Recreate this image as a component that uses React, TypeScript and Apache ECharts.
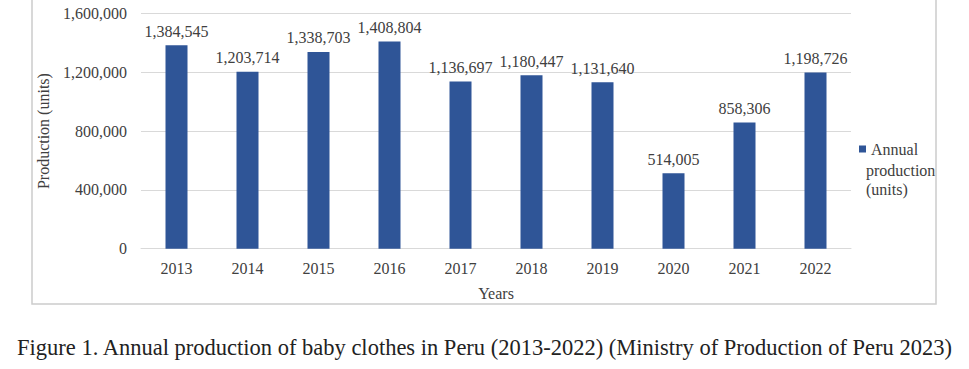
import React, { useEffect, useRef } from "react";
import * as echarts from "echarts";

const years = ["2013", "2014", "2015", "2016", "2017", "2018", "2019", "2020", "2021", "2022"];
const production = [1384545, 1203714, 1338703, 1408804, 1136697, 1180447, 1131640, 514005, 858306, 1198726];
const seriesName = "Annual production (units)";
const legendLines = ["Annual", "production", "(units)"];
const yTicks = { min: 0, max: 1600000, interval: 400000 };
const caption =
  "Figure 1. Annual production of baby clothes in Peru (2013-2022) (Ministry of Production of Peru 2023)";

const FONT = '"Liberation Serif", "Times New Roman", serif';
const fmt = (v: number) => v.toLocaleString("en-US");

export default function App() {
  const ref = useRef<HTMLDivElement>(null);
  useEffect(() => {
    if (!ref.current) return;
    const chart = echarts.init(ref.current, undefined, { renderer: "svg" });
    chart.setOption({
      animation: false,
      backgroundColor: "#ffffff",
      textStyle: { fontFamily: FONT },
      grid: { left: 141, right: 118, top: 13.5, bottom: 120.3, containLabel: false },
      xAxis: {
        type: "category",
        data: years,
        name: "Years",
        nameLocation: "middle",
        nameGap: 37,
        nameTextStyle: { fontFamily: FONT, fontSize: 16, color: "#404040" },
        axisLine: { lineStyle: { color: "#d9d9d9", width: 1 } },
        axisTick: { show: false },
        axisLabel: { fontFamily: FONT, fontSize: 16, color: "#404040", margin: 12 },
      },
      yAxis: {
        type: "value",
        min: yTicks.min,
        max: yTicks.max,
        interval: yTicks.interval,
        name: "Production (units)",
        nameLocation: "middle",
        nameGap: 90,
        nameRotate: 90,
        nameTextStyle: { fontFamily: FONT, fontSize: 16, color: "#404040" },
        axisLine: { show: false },
        axisTick: { show: false },
        splitLine: { lineStyle: { color: "#d9d9d9", width: 1 } },
        axisLabel: {
          fontFamily: FONT,
          fontSize: 16,
          color: "#404040",
          margin: 14,
          formatter: (v: number) => fmt(v),
        },
      },
      legend: {
        show: true,
        left: 854,
        top: 134.5,
        orient: "vertical",
        icon: "rect",
        itemWidth: 7,
        itemHeight: 7,
        data: [seriesName],
        formatter: () => legendLines[0],
        textStyle: { fontFamily: FONT, fontSize: 16, color: "#404040", lineHeight: 19 },
      },
      series: [
        {
          name: seriesName,
          type: "bar",
          data: production,
          barWidth: 22,
          itemStyle: { color: "#2f5597" },
          label: {
            show: true,
            position: "top",
            distance: 6,
            fontFamily: FONT,
            fontSize: 16,
            color: "#404040",
            formatter: (p: any) => fmt(p.value),
          },
        },
      ],
      graphic: [
        {
          type: "rect",
          shape: { x: 32, y: -10, width: 904, height: 314 },
          style: { fill: "none", stroke: "#cccccc", lineWidth: 1.5 },
          silent: true,
        },
        {
          type: "text",
          x: 866,
          y: 161,
          style: {
            text: legendLines.slice(1).join("\n"),
            fontFamily: FONT,
            fontSize: 16,
            lineHeight: 19,
            fill: "#404040",
            textAlign: "left",
            textVerticalAlign: "top",
          },
        },
        {
          type: "text",
          x: 484.5,
          y: 347,
          style: {
            text: caption,
            fontFamily: FONT,
            fontSize: 22.5,
            fill: "#222222",
            textAlign: "center",
            textVerticalAlign: "middle",
          },
        },
      ],
    });
    return () => chart.dispose();
  }, []);
  return (
    <div
      ref={ref}
      style={{ position: "fixed", left: 0, top: 0, width: 969, height: 369 }}
    />
  );
}
